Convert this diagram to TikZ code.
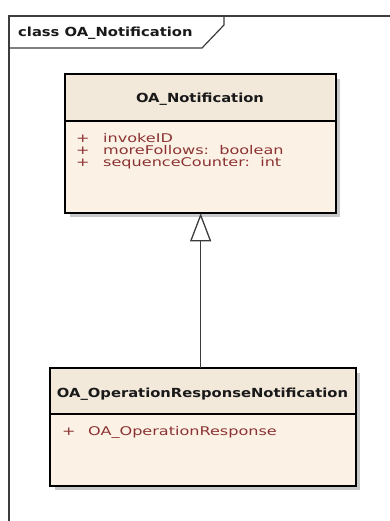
\documentclass[tikz,border=0pt]{standalone}
\usepackage{fontspec}
\newfontfamily\umlreg[FakeStretch=1.34]{DejaVu Sans}
\newfontfamily\umlbold[FakeStretch=1.18]{DejaVu Sans}
\usetikzlibrary{arrows.meta}
\definecolor{framecol}{RGB}{60,60,60}
\definecolor{headfill}{RGB}{243,233,219}
\definecolor{bodyfill}{RGB}{251,242,229}
\definecolor{shadowcol}{RGB}{200,200,200}
\definecolor{attrcol}{RGB}{140,50,50}
\definecolor{titlecol}{RGB}{25,25,25}
\tikzset{
  classbox/.style={draw=black, line width=1.3pt, fill=bodyfill, inner sep=0pt, anchor=north west},
  classshadow/.style={fill=shadowcol, draw=none},
  titletext/.style={font=\umlbold\fontsize{12.5}{13}\selectfont\bfseries, text=titlecol, inner sep=0pt, anchor=base},
  attrtext/.style={font=\umlreg\fontsize{12}{13}\selectfont, text=attrcol, inner sep=0pt, anchor=base west},
  framestyle/.style={draw=framecol, line width=1.2pt},
  divider/.style={draw=black, line width=1.1pt}
}
\begin{document}
\begin{tikzpicture}[x=1pt,y=-1pt]
\useasboundingbox (0,0) rectangle (390,521);
\fill[white] (0,0) rectangle (390,521);
% frame
\draw[framestyle] (392,16) -- (9,16) -- (9,523);
\draw[framestyle] (9,48) -- (202,48) -- (224,25) -- (224,16);
\node[titletext, anchor=base west] (frametitle) at (18,36.5) {class OA\_Notification};
% shadows
\fill[classshadow] (70,79) rectangle (340,217);
\fill[classshadow] (55,373) rectangle (360,490);
% class 1
\node[classbox, minimum width=270pt, minimum height=138pt] (n1) at (65,74) {};
\fill[headfill] ([shift={(0.7pt,-0.7pt)}]n1.north west) rectangle (334.3,121);
\draw[divider] (65,121) -- (335,121);
\draw[draw=black, line width=1.3pt] (n1.north west) rectangle (n1.south east);
\node[titletext] (n1title) at (200,102.5) {OA\_Notification};
\node[attrtext] (n1p1) at (76,143) {+};
\node[attrtext] (n1a1) at (103,143) {invokeID};
\node[attrtext] (n1p2) at (76,155) {+};
\node[attrtext] (n1a2) at (103,155) {moreFollows:\ \ boolean};
\node[attrtext] (n1p3) at (76,166.5) {+};
\node[attrtext] (n1a3) at (103,166.5) {sequenceCounter:\ \ int};
% class 2
\node[classbox, minimum width=305pt, minimum height=117pt] (n2) at (50,368) {};
\fill[headfill] ([shift={(0.7pt,-0.7pt)}]n2.north west) rectangle (354.3,414);
\draw[divider] (50,414) -- (355,414);
\draw[draw=black, line width=1.3pt] (n2.north west) rectangle (n2.south east);
\node[titletext] (n2title) at (202.5,397.5) {OA\_OperationResponseNotification};
\node[attrtext] (n2p1) at (62,435) {+};
\node[attrtext] (n2a1) at (88,435) {OA\_OperationResponse};
% generalization
\draw[draw=framecol, line width=1.5pt, -{Triangle[length=28pt, width=21pt, fill=white, line width=1.3pt]}]
  (n2.north -| n1.south) -- (n1.south);
\end{tikzpicture}
\end{document}
